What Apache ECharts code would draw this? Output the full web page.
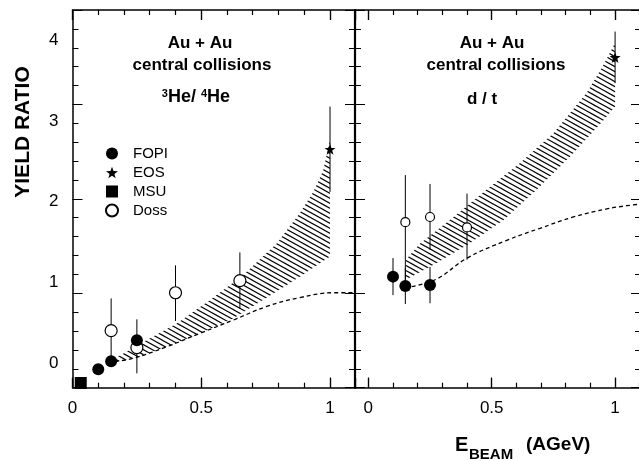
<!DOCTYPE html>
<html><head><meta charset="utf-8">
<script src="https://cdn.jsdelivr.net/npm/echarts@6/dist/echarts.min.js"></script>
<style>html,body{margin:0;padding:0;background:#fff}#c{width:639px;height:461px}</style>
</head><body><div id="c"></div>
<script>
// ---------------- data ----------------
const xTickLabels = [0, 0.5, 1];
const xTickMajor = [0, 0.5, 1];
const xTickMinor = [0.1, 0.2, 0.3, 0.4, 0.6, 0.7, 0.8, 0.9, 1.1];
const yTickLabels = [0, 1, 2, 3, 4];

// 3He/4He panel
const heFopiX = [0.10, 0.15, 0.25];
const heFopiY = [-0.08, 0.02, 0.28];
const heEosX = [1.0];
const heEosY = [2.65];
const heEosLo = [2.12];
const heEosHi = [3.18];
const heMsuX = [0.032];
const heMsuY = [-0.25];
const heDossX = [0.15, 0.25, 0.40, 0.65];
const heDossY = [0.40, 0.19, 0.87, 1.02];
const heDossLo = [0.02, -0.13, 0.52, 0.67];
const heDossHi = [0.80, 0.54, 1.21, 1.37];
const heBandUpX = [0.15, 0.20, 0.275, 0.405, 0.534, 0.663, 0.793, 0.883, 0.935, 0.974, 1.0];
const heBandUpY = [0.03, 0.12, 0.26, 0.49, 0.78, 1.09, 1.48, 1.86, 2.12, 2.39, 2.77];
const heBandLoX = [0.15, 0.236, 0.366, 0.495, 0.624, 0.78, 0.883, 1.0];
const heBandLoY = [0.0, 0.057, 0.20, 0.367, 0.55, 0.86, 1.07, 1.32];
const heCalcX = [0.165, 0.236, 0.366, 0.495, 0.624, 0.754, 0.883, 1.013, 1.10];
const heCalcY = [0.015, 0.057, 0.20, 0.367, 0.53, 0.70, 0.81, 0.87, 0.87];

// d/t panel
const dtFopiX = [0.10, 0.15, 0.25];
const dtFopiY = [1.07, 0.954, 0.966];
const dtFopiLo = [0.84, 0.73, 0.74];
const dtFopiHi = [1.30, 1.18, 1.19];
const dtEosX = [1.0];
const dtEosY = [3.79];
const dtEosLo = [3.47];
const dtEosHi = [4.11];
const dtDossX = [0.15, 0.25, 0.40];
const dtDossY = [1.745, 1.81, 1.68];
const dtDossLo = [0.95, 1.40, 1.28];
const dtDossHi = [2.33, 2.22, 2.10];
const dtBandUpX = [0.152, 0.21, 0.345, 0.48, 0.615, 0.75, 0.885, 0.95, 1.0];
const dtBandUpY = [1.28, 1.48, 1.81, 2.15, 2.48, 2.85, 3.35, 3.68, 3.97];
const dtBandLoX = [0.152, 0.277, 0.41, 0.547, 0.683, 0.818, 0.953, 1.0];
const dtBandLoY = [1.03, 1.24, 1.48, 1.77, 2.15, 2.56, 3.01, 3.18];
const dtCalcX = [0.176, 0.277, 0.40, 0.561, 0.696, 0.831, 0.966, 1.047, 1.105];
const dtCalcY = [0.946, 1.04, 1.30, 1.52, 1.67, 1.81, 1.91, 1.95, 1.97];

// ---------------- helpers ----------------
const FONT = '"Liberation Sans", Arial, Helvetica, sans-serif';
const BLACK = '#000';
const STAR = 'path://M0,-10L2.35,-3.24L9.51,-3.09L3.8,1.24L5.88,8.09L0,4L-5.88,8.09L-3.8,1.24L-9.51,-3.09L-2.35,-3.24Z';
const Y_MIN = -0.308, Y_MAX = 4.378;
const X0 = [0, 1.097], X1 = [-0.054, 1.105];

function hatchPattern() {
  const c = document.createElement('canvas');
  c.width = 18; c.height = 10;
  const g = c.getContext('2d');
  g.strokeStyle = '#000'; g.lineWidth = 1.1;
  g.beginPath();
  for (let b = -20; b <= 20; b += 5) {
    g.moveTo(-18, b - 10); g.lineTo(36, b + 20);
  }
  g.stroke();
  return { image: c, repeat: 'repeat' };
}
const HATCH = hatchPattern();

const zip = (a, b) => a.map((v, i) => [v, b[i]]);
const zip3 = (a, b, c) => a.map((v, i) => [v, b[i], c[i]]);
const crisp = v => Math.round(v - 0.5) + 0.5;

function xAxisFor(grid, pos, range, labels) {
  return {
    type: 'value', gridIndex: grid, position: pos, min: range[0], max: range[1], splitNumber: 2,
    axisLine: { show: true, onZero: false, lineStyle: { color: BLACK, width: 1.5 } },
    axisTick: { show: true, inside: true, length: 10, lineStyle: { color: BLACK, width: 1.2 } },
    axisLabel: labels
      ? { show: true, customValues: xTickLabels, margin: 12, color: BLACK, fontFamily: FONT, fontSize: 17 }
      : { show: false },
    splitLine: { show: false }
  };
}
function yTickAxis(grid, pos, lineShow, lineW) {
  return { type: 'value', gridIndex: grid, position: pos, min: 0, max: 4, interval: 1,
    axisLine: { show: lineShow, onZero: false, lineStyle: { color: BLACK, width: lineW } },
    axisTick: { show: true, inside: true, length: 10, lineStyle: { color: BLACK, width: 1 } },
    minorTick: { show: true, splitNumber: 5, length: 6, lineStyle: { color: BLACK, width: 1 } },
    axisLabel: { show: false }, splitLine: { show: false }, minorSplitLine: { show: false } };
}
function yDataAxis(grid, labels) {
  return { type: 'value', gridIndex: grid, position: 'left', min: Y_MIN, max: Y_MAX,
    axisLine: { show: false, onZero: false }, axisTick: { show: false },
    axisLabel: { show: labels, customValues: yTickLabels, margin: 14, color: BLACK, fontFamily: FONT, fontSize: 17 },
    splitLine: { show: false } };
}

// x-axis tick marks placed through the x scale (inward from bottom and top frame)
function xTickSeries(xi, yi, vals, range, len) {
  const data = vals.filter(v => v >= range[0] && v <= range[1]).map(v => [v, Y_MIN]);
  return { type: 'custom', name: 'xticks', xAxisIndex: xi, yAxisIndex: yi, z: 6, silent: true, clip: false,
    data: data,
    renderItem: function (params, api) {
      const b = api.coord([api.value(0), Y_MIN]);
      const t = api.coord([api.value(0), Y_MAX]);
      const x = crisp(b[0]);
      return { type: 'group', children: [
        { type: 'rect', shape: { x: x - 0.6, y: b[1] - len, width: 1.2, height: len }, style: { fill: BLACK } },
        { type: 'rect', shape: { x: x - 0.6, y: t[1], width: 1.2, height: len }, style: { fill: BLACK } }
      ] };
    } };
}
function bandSeries(xi, yi, upX, upY, loX, loY) {
  return { type: 'custom', name: 'band', xAxisIndex: xi, yAxisIndex: yi, z: 1, silent: true,
    data: [[upX[0], upY[0]]],
    renderItem: function (params, api) {
      const pts = [];
      for (let i = 0; i < upX.length; i++) pts.push(api.coord([upX[i], upY[i]]));
      for (let i = loX.length - 1; i >= 0; i--) pts.push(api.coord([loX[i], loY[i]]));
      return { type: 'polygon', shape: { points: pts }, style: { fill: HATCH, stroke: null } };
    } };
}
function errSeries(xi, yi, data) {
  return { type: 'custom', name: 'err', xAxisIndex: xi, yAxisIndex: yi, z: 3, silent: true,
    encode: { x: 0, y: [1, 2] }, data: data,
    renderItem: function (params, api) {
      const a = api.coord([api.value(0), api.value(1)]);
      const b = api.coord([api.value(0), api.value(2)]);
      return { type: 'line', shape: { x1: a[0], y1: a[1], x2: b[0], y2: b[1] }, style: { stroke: BLACK, lineWidth: 1 } };
    } };
}
function calcSeries(xi, yi, xs, ys) {
  return { type: 'line', name: 'calc', xAxisIndex: xi, yAxisIndex: yi, z: 2, smooth: 0.4, showSymbol: false, silent: true,
    data: zip(xs, ys), lineStyle: { color: BLACK, width: 1.3, type: [4, 3] } };
}
function scat(name, xi, yi, data, symbol, size, fill) {
  return { type: 'scatter', name: name, xAxisIndex: xi, yAxisIndex: yi, z: 4, data: data,
    symbol: symbol, symbolSize: size,
    itemStyle: { color: fill, borderColor: BLACK, borderWidth: fill === '#fff' ? 1.2 : 0, opacity: 1 } };
}

// ---------------- chart ----------------
const chart = echarts.init(document.getElementById('c'), null, { renderer: 'canvas' });
const option = {
  animation: false,
  backgroundColor: '#fff',
  grid: [
    { left: 72.5, top: 10, width: 282.5, height: 377.7, outerBoundsMode: 'none', containLabel: false },
    { left: 355, top: 10, width: 286, height: 377.7, outerBoundsMode: 'none', containLabel: false }
  ],
  xAxis: [
    xAxisFor(0, 'bottom', X0, true), xAxisFor(0, 'top', X0, false),
    xAxisFor(1, 'bottom', X1, true), xAxisFor(1, 'top', X1, false)
  ],
  yAxis: [
    yDataAxis(0, true), yTickAxis(0, 'left', true, 1.5), yTickAxis(0, 'right', true, 2.2),
    yDataAxis(1, false), yTickAxis(1, 'left', false, 1), yTickAxis(1, 'right', true, 1.5)
  ],
  legend: {
    data: ['FOPI', 'EOS', 'MSU', 'Doss'], orient: 'vertical', left: 105, top: 146,
    itemWidth: 12, itemHeight: 12, itemGap: 4, padding: 0, selectedMode: false,
    textStyle: { fontFamily: FONT, fontSize: 15, color: BLACK, padding: [0, 0, 0, 10], lineHeight: 12 }
  },
  graphic: [
    { type: 'text', x: 200, y: 43, style: { text: 'Au + Au', font: 'bold 17px ' + FONT, fill: BLACK, align: 'center', verticalAlign: 'middle' } },
    { type: 'text', x: 202, y: 65, style: { text: 'central collisions', font: 'bold 17px ' + FONT, fill: BLACK, align: 'center', verticalAlign: 'middle' } },
    { type: 'text', x: 196, y: 97, style: { text: '{s|3}{m|He/ }{s|4}{m|He}', align: 'center', verticalAlign: 'middle', fill: BLACK,
        rich: { s: { font: 'bold 11px ' + FONT, fill: BLACK, verticalAlign: 'top' }, m: { font: 'bold 18px ' + FONT, fill: BLACK } } } },
    { type: 'text', x: 492, y: 43, style: { text: 'Au + Au', font: 'bold 17px ' + FONT, fill: BLACK, align: 'center', verticalAlign: 'middle' } },
    { type: 'text', x: 496, y: 65, style: { text: 'central collisions', font: 'bold 17px ' + FONT, fill: BLACK, align: 'center', verticalAlign: 'middle' } },
    { type: 'text', x: 482, y: 99, style: { text: 'd / t', font: 'bold 17px ' + FONT, fill: BLACK, align: 'center', verticalAlign: 'middle' } },
    { type: 'text', x: 23, y: 132, rotation: Math.PI / 2, style: { text: 'YIELD RATIO', font: 'bold 21px ' + FONT, fill: BLACK, align: 'center', verticalAlign: 'middle' } },
    { type: 'text', x: 455, y: 445, style: { text: 'E', font: 'bold 20px ' + FONT, fill: BLACK, align: 'left', verticalAlign: 'middle' } },
    { type: 'text', x: 469, y: 455, style: { text: 'BEAM', font: 'bold 15px ' + FONT, fill: BLACK, align: 'left', verticalAlign: 'middle' } },
    { type: 'text', x: 526, y: 445, style: { text: '(AGeV)', font: 'bold 19px ' + FONT, fill: BLACK, align: 'left', verticalAlign: 'middle' } }
  ],
  series: [
    xTickSeries(0, 0, xTickMajor, X0, 10),
    xTickSeries(0, 0, xTickMinor, X0, 5),
    xTickSeries(2, 3, xTickMajor, X1, 10),
    xTickSeries(2, 3, xTickMinor, X1, 5),
    scat('Doss', 0, 0, zip(heDossX, heDossY), 'circle', 12, '#fff'),
    scat('FOPI', 0, 0, zip(heFopiX, heFopiY), 'circle', 12, BLACK),
    scat('EOS', 0, 0, zip(heEosX, heEosY), STAR, 11, BLACK),
    scat('MSU', 0, 0, zip(heMsuX, heMsuY), 'rect', 12, BLACK),
    bandSeries(0, 0, heBandUpX, heBandUpY, heBandLoX, heBandLoY),
    calcSeries(0, 0, heCalcX, heCalcY),
    errSeries(0, 0, zip3(heEosX, heEosLo, heEosHi)),
    errSeries(0, 0, zip3(heDossX, heDossLo, heDossHi)),
    bandSeries(2, 3, dtBandUpX, dtBandUpY, dtBandLoX, dtBandLoY),
    calcSeries(2, 3, dtCalcX, dtCalcY),
    errSeries(2, 3, zip3(dtFopiX, dtFopiLo, dtFopiHi)),
    errSeries(2, 3, zip3(dtEosX, dtEosLo, dtEosHi)),
    errSeries(2, 3, zip3(dtDossX, dtDossLo, dtDossHi)),
    scat('FOPI', 2, 3, zip(dtFopiX, dtFopiY), 'circle', 12, BLACK),
    scat('EOS', 2, 3, zip(dtEosX, dtEosY), STAR, 11, BLACK),
    scat('Doss', 2, 3, zip(dtDossX, dtDossY), 'circle', 9, '#fff')
  ]
};
chart.setOption(option);
</script>
</body></html>
